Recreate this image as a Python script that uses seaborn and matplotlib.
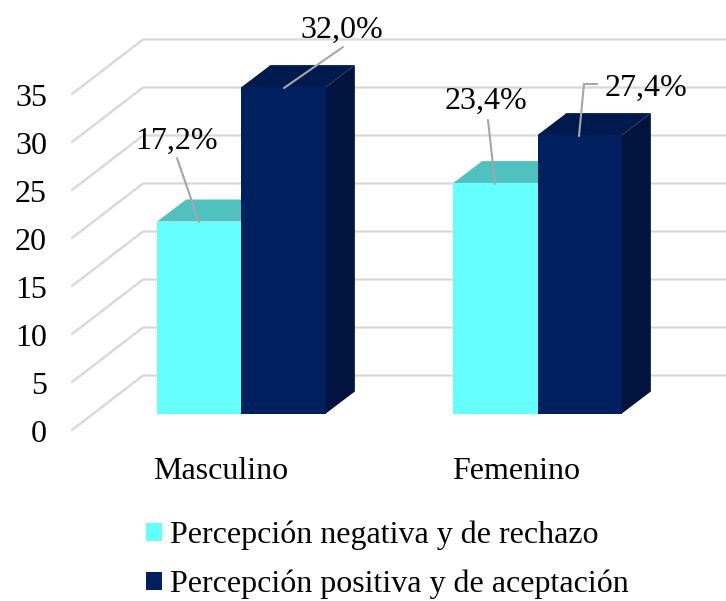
import matplotlib
matplotlib.use('Agg')
import matplotlib.pyplot as plt
from matplotlib.patches import Polygon
from matplotlib.transforms import ScaledTranslation
import pandas as pd
import seaborn as sns

# Datos
categorias = ['Masculino', 'Femenino']
series = ['Percepción negativa y de rechazo', 'Percepción positiva y de aceptación']
valores_negativa = [20, 24]
valores_positiva = [34, 29]
etiquetas = ['17,2%', '23,4%', '32,0%', '27,4%']
y_ticks = [0, 5, 10, 15, 20, 25, 30, 35]

COLORES = ['#66FFFF', '#002060']
TECHOS = ['#4FC1BF', '#001A4D']
LADOS = ['#4FC1BF', '#00143F']
GRIS = '#D9D9D9'
FUENTE = 23

W, H = 726, 601
BASE_Y = 413.5
ESCALA_Y = 9.6   # px por unidad
ESCALA_X = 296   # px entre categorias


# pixeles de la imagen a coordenadas de datos
def px(x):
    return (x - 241.5) / ESCALA_X


def py(y):
    return (BASE_Y - y) / ESCALA_Y


df = pd.DataFrame({
    'categoria': categorias * 2,
    'serie': [series[0]] * 2 + [series[1]] * 2,
    'valor': valores_negativa + valores_positiva,
})

sns.set_theme(style='white')
plt.rcParams['font.family'] = ['Liberation Serif', 'DejaVu Serif']
plt.rcParams['font.size'] = FUENTE

fig = plt.figure(figsize=(W / 100, H / 100), dpi=100)
ax = fig.add_axes([72 / W, 1 - BASE_Y / H, (W - 72) / W, 336 / H])

sns.barplot(data=df, x='categoria', y='valor', hue='serie', order=categorias,
            hue_order=series, palette=COLORES, width=0.57, gap=0, saturation=1,
            linewidth=0, ax=ax, zorder=3)
ax.set_xlim(px(72), px(W))
ax.set_ylim(0, 35)
ax.set_xlabel('')
ax.set_ylabel('')
sns.despine(ax=ax, left=True, bottom=True)

# Pared del fondo y piso
for k in y_ticks:
    ax.plot([px(72), px(143), px(W)], [k + py(430), k + py(375.5), k + py(375.5)],
            color=GRIS, lw=1.7, clip_on=False, zorder=1, solid_joinstyle='miter')

# Caras laterales y superiores de cada barra
dx, dy = 29 / ESCALA_X, 22 / ESCALA_Y
barras = [b for b in ax.patches if b.get_height() > 0]
for i, b in enumerate(barras):
    x0, x1, h = b.get_x(), b.get_x() + b.get_width(), b.get_height()
    s = i // 2
    z = 3 + s + (i % 2) * 0.1
    b.set_zorder(z + 0.05)
    ax.add_patch(Polygon([(x1, 0), (x1 + dx, dy), (x1 + dx, h + dy), (x1, h)],
                         closed=True, fc=LADOS[s], ec='none', zorder=z, clip_on=False))
    ax.add_patch(Polygon([(x0, h), (x0 + dx, h + dy), (x1 + dx, h + dy), (x1, h)],
                         closed=True, fc=TECHOS[s], ec='none', zorder=z, clip_on=False))

# Etiquetas con lineas guia
guias = [
    ([177, 199], [158, 222]),
    ([488, 495], [120, 184]),
    ([343, 284], [47, 88]),
    ([597, 584, 579], [84, 84, 136]),
]
pos_etiquetas = [(176.5, 141), (486, 101), (341.5, 30), (645.5, 88)]
for texto, (gx, gy), (tx, ty) in zip(etiquetas, guias, pos_etiquetas):
    ax.plot([px(v) for v in gx], [py(v) for v in gy], color='#A6A6A6', lw=1.5,
            zorder=8, clip_on=False, solid_joinstyle='miter')
    ax.text(px(tx), py(ty), texto, ha='center', va='center', fontsize=FUENTE,
            color='black', zorder=9, clip_on=False)

# Ejes: etiquetas desplazadas hacia el plano frontal
ax.set_yticks(y_ticks)
ax.set_yticklabels([str(k) for k in y_ticks], fontsize=FUENTE, color='black')
ax.tick_params(axis='y', length=0, pad=18)
ax.tick_params(axis='x', length=0, pad=31, labelsize=FUENTE, labelcolor='black')
baja = ScaledTranslation(0, -17 / 100, fig.dpi_scale_trans)
for lab in ax.get_yticklabels():
    lab.set_transform(lab.get_transform() + baja)
ax.set_xticks(range(len(categorias)))
ax.set_xticklabels(categorias)
corre = ScaledTranslation(-21 / 100, 0, fig.dpi_scale_trans)
for lab in ax.get_xticklabels():
    lab.set_transform(lab.get_transform() + corre)

# Leyenda
handles, labels = ax.get_legend_handles_labels()
ax.legend(handles, labels, loc='upper left', bbox_to_anchor=(146 / W, 1 - 521 / H),
          bbox_transform=fig.transFigure, frameon=False, fontsize=FUENTE, ncol=1,
          handlelength=0.5, handleheight=0.5, handletextpad=0.25, labelspacing=0.61,
          borderpad=0, borderaxespad=0, labelcolor='black')

fig.savefig('out.png', dpi=100, facecolor='white')
